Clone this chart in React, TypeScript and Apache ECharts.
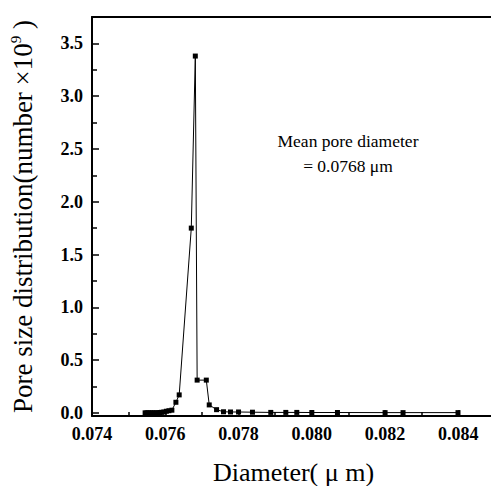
import React, { useEffect, useRef } from "react";
import * as echarts from "echarts";

const diameters = [
  0.07545, 0.0755, 0.07555, 0.0756, 0.07565, 0.0757, 0.07575, 0.0758, 0.07585, 0.0759,
  0.07596, 0.07603, 0.0761, 0.07618, 0.07629, 0.07638, 0.07671, 0.07682, 0.07687, 0.07712,
  0.0772, 0.0774, 0.07759, 0.07778, 0.078, 0.07838, 0.07888, 0.07929, 0.07959, 0.08,
  0.0807, 0.082, 0.08249, 0.08399,
];
const counts = [
  0, 0, 0, 0, 0, 0, 0, 0, 0.003, 0.005,
  0.008, 0.015, 0.02, 0.025, 0.1, 0.17, 1.75, 3.38, 0.31, 0.31,
  0.075, 0.03, 0.01, 0.008, 0.008, 0.006, 0.004, 0.004, 0.004, 0.003,
  0.003, 0.002, 0.002, 0.002,
];
const xMajorTicks = [0.074, 0.076, 0.078, 0.08, 0.082, 0.084];
const xMinorTicks = [0.075, 0.077, 0.079, 0.081, 0.083];
const yMajorTicks = [0, 0.5, 1.0, 1.5, 2.0, 2.5, 3.0, 3.5];
const yMinorTicks = [0.25, 0.75, 1.25, 1.75, 2.25, 2.75, 3.25];
const annotationLines = ["Mean pore diameter", "= 0.0768 μm"];

const FONT = "'Liberation Serif', 'Times New Roman', serif";
const X_MIN = 0.074;
const Y_MIN = -0.03;

export default function App() {
  const ref = useRef<HTMLDivElement>(null);
  useEffect(() => {
    if (!ref.current) return;
    const chart = echarts.init(ref.current, undefined, { renderer: "svg" });
    const black = { color: "#000", width: 1.5 };
    chart.setOption({
      animation: false,
      backgroundColor: "#fff",
      grid: {
        left: 92,
        top: 17,
        width: 403,
        bottom: 70,
        show: false,
        containLabel: false,
        outerBoundsMode: "none",
      },
      xAxis: [
        {
          type: "value",
          min: X_MIN,
          max: 0.085,
          position: "bottom",
          splitLine: { show: false },
          axisLine: { show: true, onZero: false, lineStyle: { color: "#000", width: 2 } },
          axisTick: { show: true, inside: true, length: 6, customValues: xMajorTicks, lineStyle: black },
          axisLabel: {
            customValues: xMajorTicks.slice(1),
            formatter: (v: number) => v.toFixed(3),
            color: "#000",
            fontFamily: FONT,
            fontWeight: "bold",
            fontSize: 18,
            lineHeight: 16,
            margin: 10,
            hideOverlap: false,
          },
          name: "Diameter( μ m)",
          nameLocation: "middle",
          nameGap: 43,
          nameTextStyle: { color: "#000", fontFamily: FONT, fontSize: 26 },
        },
        {
          type: "value",
          min: X_MIN,
          max: 0.085,
          position: "bottom",
          splitLine: { show: false },
          axisLine: { show: false, onZero: false },
          axisTick: { show: true, inside: true, length: 4, customValues: xMinorTicks, lineStyle: black },
          axisLabel: { show: false },
        },
        {
          type: "value",
          min: X_MIN,
          max: 0.085,
          position: "top",
          splitLine: { show: false },
          axisLine: { show: true, onZero: false, lineStyle: { color: "#000", width: 2 } },
          axisTick: { show: false },
          axisLabel: { show: false },
        },
      ],
      yAxis: [
        {
          type: "value",
          min: Y_MIN,
          max: 3.75,
          position: "left",
          splitLine: { show: false },
          axisLine: { show: true, onZero: false, lineStyle: { color: "#000", width: 2 } },
          axisTick: { show: true, inside: true, length: 7, customValues: yMajorTicks, lineStyle: black },
          axisLabel: {
            customValues: yMajorTicks,
            formatter: (v: number) => v.toFixed(1),
            color: "#000",
            fontFamily: FONT,
            fontWeight: "bold",
            fontSize: 18,
            lineHeight: 16,
            margin: 9,
          },
          name: "Pore size distribution(number ×10{sup|9} )",
          nameLocation: "middle",
          nameGap: 54,
          nameTextStyle: {
            color: "#000",
            fontFamily: FONT,
            fontSize: 27,
            lineHeight: 30,
            rich: {
              sup: { fontFamily: FONT, fontSize: 15, color: "#000", verticalAlign: "top", lineHeight: 30, padding: [0, 0, 12, 0] },
            },
          },
        },
        {
          type: "value",
          min: Y_MIN,
          max: 3.75,
          position: "left",
          splitLine: { show: false },
          axisLine: { show: false, onZero: false },
          axisTick: { show: true, inside: true, length: 5, customValues: yMinorTicks, lineStyle: black },
          axisLabel: { show: false },
        },
      ],
      series: [
        {
          type: "line",
          xAxisIndex: 0,
          yAxisIndex: 0,
          data: diameters.map((d, i) => [d, counts[i]]),
          symbol: "rect",
          symbolSize: 5,
          showSymbol: true,
          itemStyle: { color: "#000" },
          lineStyle: { color: "#000", width: 1 },
        },
      ],
    });
    const minX = chart.convertToPixel({ xAxisIndex: 0 }, X_MIN) as number;
    const axisY = chart.convertToPixel({ yAxisIndex: 0 }, Y_MIN) as number;
    const graphics: any[] = annotationLines.map((t, i) => ({
      type: "text",
      x: 348,
      y: 141 + i * 25,
      style: {
        text: t,
        fill: "#000",
        font: `17.5px ${FONT}`,
        textAlign: "center",
        textVerticalAlign: "middle",
      },
    }));
    graphics.push({
      type: "text",
      x: minX,
      y: axisY + 18,
      style: {
        text: X_MIN.toFixed(3),
        fill: "#000",
        font: `bold 18px ${FONT}`,
        textAlign: "center",
        textVerticalAlign: "middle",
      },
    });
    chart.setOption({ graphic: graphics });
    return () => chart.dispose();
  }, []);
  return (
    <div
      ref={ref}
      style={{ position: "absolute", left: 0, top: 0, width: 491, height: 486, background: "#fff", overflow: "hidden" }}
    />
  );
}
